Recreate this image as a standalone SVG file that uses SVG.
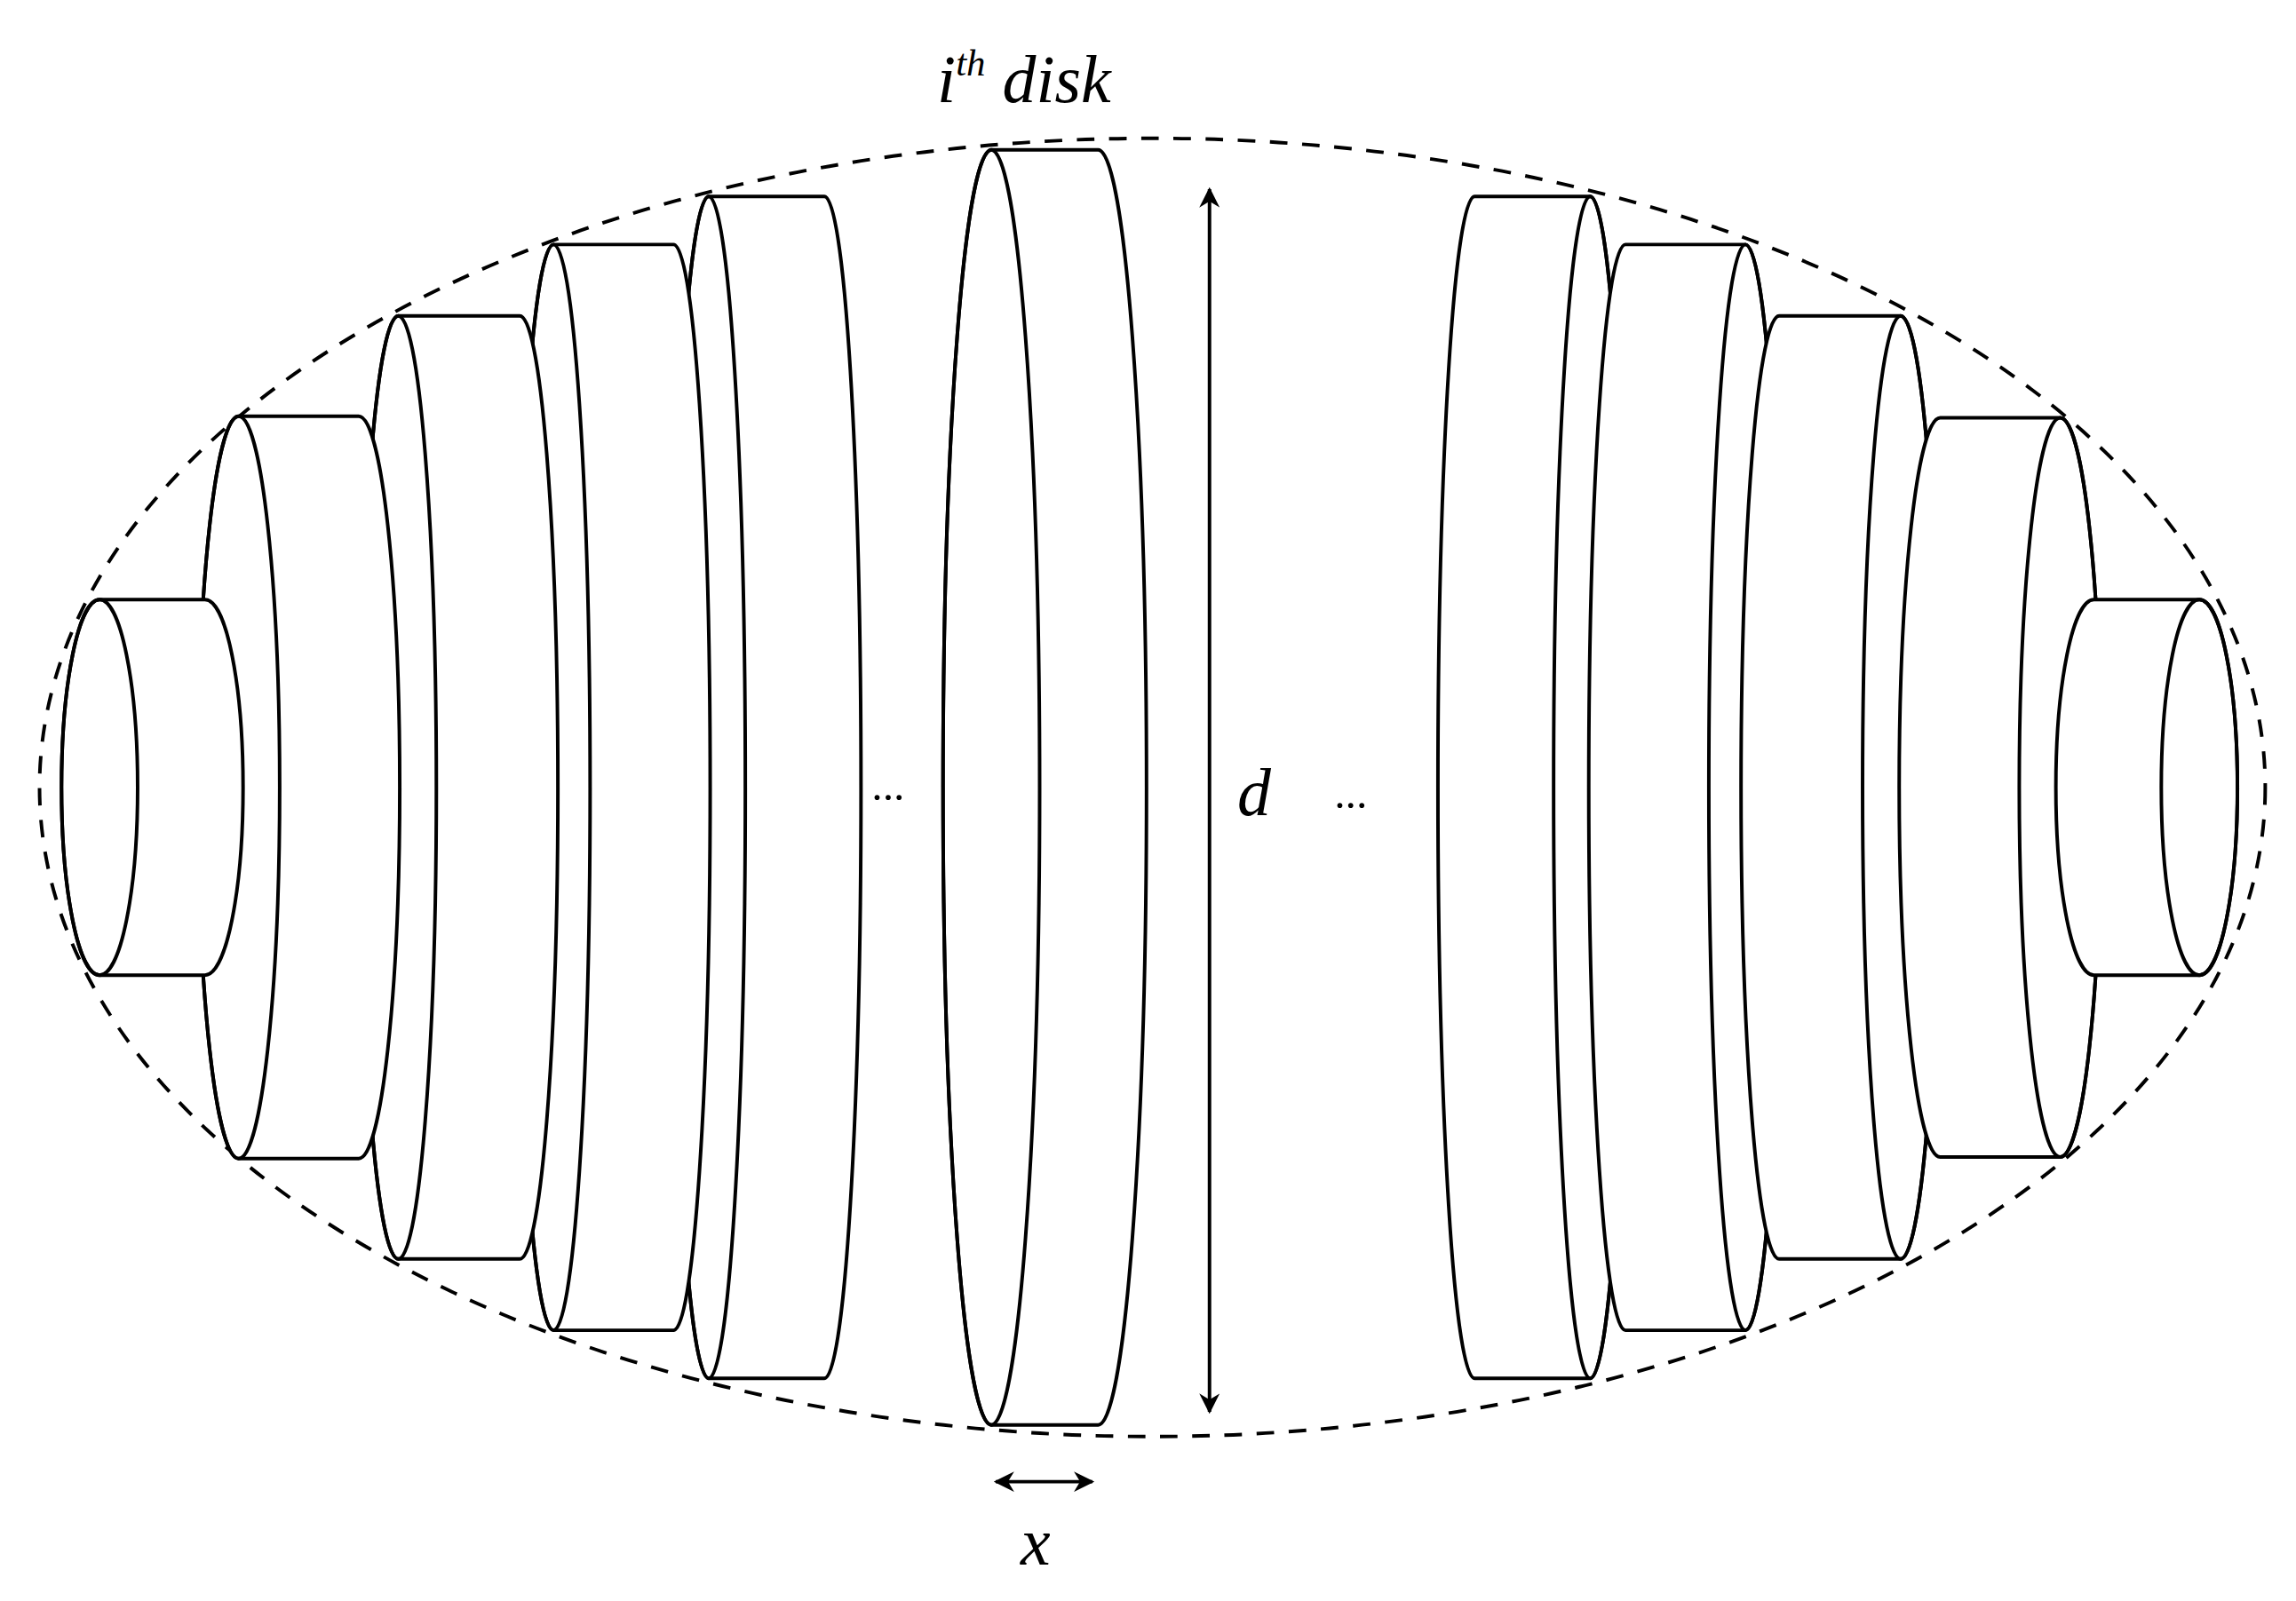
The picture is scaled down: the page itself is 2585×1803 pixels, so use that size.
<svg xmlns="http://www.w3.org/2000/svg" width="2585" height="1803" viewBox="0 0 2585 1803">
<style>
.d{fill:#fff;stroke:#000;stroke-width:2.4;stroke-linejoin:round}
.e{fill:none;stroke:#000;stroke-width:2.4}
.t{font-family:"Liberation Serif",serif;font-style:italic;fill:#000}
</style>
<defs>
<marker id="ah" viewBox="0 0 10 10" refX="9" refY="5" markerWidth="7" markerHeight="7" orient="auto-start-reverse" markerUnits="userSpaceOnUse"><path d="M0,0 L10,5 L0,10 L3,5 Z" fill="#000"/></marker>
<marker id="ah2" viewBox="0 0 10 10" refX="9" refY="5" markerWidth="14" markerHeight="14" orient="auto-start-reverse" markerUnits="userSpaceOnUse"><path d="M0,0 L10,5 L0,10 L3,5 Z" fill="#000"/></marker>
</defs>
<rect width="2585" height="1803" fill="#fff"/>
<g transform="scale(1.6486,1.6391)">
<ellipse id="envelope" cx="787" cy="541" rx="760" ry="446" fill="none" stroke="#000" stroke-width="2.4" stroke-dasharray="12,10"/>
<g id="disk-mid"><path class="d" d="M677,103 L750,103 A33,438 0 0 1 750,979 L677,979 A33,438 0 0 1 677,103 Z"/><ellipse class="e" cx="677" cy="541" rx="33" ry="438"/></g>
<g id="disk-l5"><path class="d" d="M484,135 L563,135 A25,406 0 0 1 563,947 L484,947 A25,406 0 0 1 484,135 Z"/><ellipse class="e" cx="484" cy="541" rx="25" ry="406"/></g>
<g id="disk-l4"><path class="d" d="M378,168 L460,168 A25,373 0 0 1 460,914 L378,914 A25,373 0 0 1 378,168 Z"/><ellipse class="e" cx="378" cy="541" rx="25" ry="373"/></g>
<g id="disk-l3"><path class="d" d="M272,217 L355,217 A26,324 0 0 1 355,865 L272,865 A26,324 0 0 1 272,217 Z"/><ellipse class="e" cx="272" cy="541" rx="26" ry="324"/></g>
<g id="disk-l2"><path class="d" d="M163,286 L245,286 A28,255 0 0 1 245,796 L163,796 A28,255 0 0 1 163,286 Z"/><ellipse class="e" cx="163" cy="541" rx="28" ry="255"/></g>
<g id="disk-l1"><path class="d" d="M68,412 L140,412 A26,129 0 0 1 140,670 L68,670 A26,129 0 0 1 68,412 Z"/><ellipse class="e" cx="68" cy="541" rx="26" ry="129"/></g>
<g id="disk-r5"><path class="d" d="M1086,135 L1007,135 A25,406 0 0 0 1007,947 L1086,947 A25,406 0 0 0 1086,135 Z"/><ellipse class="e" cx="1086" cy="541" rx="25" ry="406"/></g>
<g id="disk-r4"><path class="d" d="M1192,168 L1110,168 A25,373 0 0 0 1110,914 L1192,914 A25,373 0 0 0 1192,168 Z"/><ellipse class="e" cx="1192" cy="541" rx="25" ry="373"/></g>
<g id="disk-r3"><path class="d" d="M1298,217 L1215,217 A26,324 0 0 0 1215,865 L1298,865 A26,324 0 0 0 1298,217 Z"/><ellipse class="e" cx="1298" cy="541" rx="26" ry="324"/></g>
<g id="disk-r2"><path class="d" d="M1407,287 L1325,287 A28,254 0 0 0 1325,795 L1407,795 A28,254 0 0 0 1407,287 Z"/><ellipse class="e" cx="1407" cy="541" rx="28" ry="254"/></g>
<g id="disk-r1"><path class="d" d="M1502,412 L1430,412 A26,129 0 0 0 1430,670 L1502,670 A26,129 0 0 0 1502,412 Z"/><ellipse class="e" cx="1502" cy="541" rx="26" ry="129"/></g>
<g id="connectors">
<line x1="826" y1="130" x2="826" y2="970" stroke="#000" stroke-width="2.4" marker-start="url(#ah2)" marker-end="url(#ah2)"/>
<line x1="680" y1="1018" x2="746" y2="1018" stroke="#000" stroke-width="2.4" marker-start="url(#ah2)" marker-end="url(#ah2)"/>
</g>
<text class="t" x="640" y="70" font-size="46">i<tspan font-size="26" dy="-18">th</tspan><tspan dy="18"> disk</tspan></text>
<text class="t" x="845" y="560" font-size="46">d</text>
<text class="t" x="697" y="1075" font-size="46">x</text>
<text class="t" x="596" y="550" font-size="30" font-style="normal">...</text>
<text class="t" x="912" y="555" font-size="30" font-style="normal">...</text>
</g>
</svg>
